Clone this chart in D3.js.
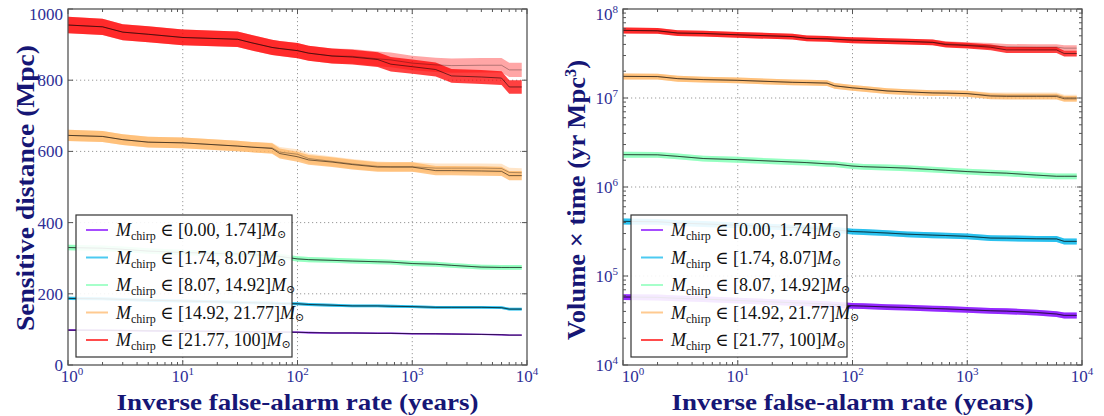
<!DOCTYPE html>
<html>
<head>
<meta charset="utf-8">
<script src="https://cdn.jsdelivr.net/npm/d3@7/dist/d3.min.js"></script>
<style>
  body { margin: 0; background: #fff; }
  text { font-family: "Liberation Serif", "DejaVu Serif", serif; }
</style>
</head>
<body>
<svg id="canvas" width="1104" height="416"></svg>
<script>
// inverse false-alarm rate (years), shared by every curve
let ifar = [1, 2, 3, 5, 10, 30, 40, 60, 70, 100, 125, 200, 300, 500, 650, 1000, 1600, 2200, 4000, 6000, 7000, 9000];

let binLabels = ["[0.00, 1.74]", "[1.74, 8.07]", "[8.07, 14.92]", "[14.92, 21.77]", "[21.77, 100]"];
let binColors = ["#8000ff", "#00b4eb", "#80ffb4", "#ffb462", "#ff0000"];

// sensitive distance (Mpc)
let dist1 = [98, 97.5, 97, 96, 95, 94, 93.5, 93, 92.5, 92, 91, 90, 90, 89, 89, 88, 87.5, 87, 86, 85, 84, 84];
let dist2 = [187, 186, 184, 182, 180, 176, 175, 174, 173, 172, 170, 168, 166, 166, 165, 164, 162, 162, 162, 161, 157, 157];
let dist3 = [330, 328, 325, 320, 316, 312, 310, 307, 305, 298, 296, 294, 292, 290, 289, 285, 283, 280, 275, 274, 274, 274];
let dist4 = [645, 642, 633, 626, 624, 615, 612, 608, 594, 585, 576, 570, 563, 556, 556, 556, 546, 546, 545, 544, 532, 532];
let dist5 = [955, 950, 935, 929, 920, 915, 905, 892, 889, 883, 876, 868, 865, 858, 845, 838, 830, 812, 809, 806, 781, 781];
// second (lighter) estimate, where it departs from the first
let dist4b = [645, 642, 633, 626, 624, 615, 612, 610, 598, 592, 580, 572, 565, 558, 557, 557, 553, 553, 553, 552, 541, 540];
let dist5b = [955, 950, 935, 929, 920, 915, 905, 892, 889, 883, 876, 868, 867, 860, 857, 848, 843, 841, 842, 842, 829, 829];

// volume x time (yr Mpc^3)
let vt1 = [5.81e4, 5.75e4, 5.62e4, 5.50e4, 5.31e4, 5.01e4, 4.95e4, 4.84e4, 4.79e4, 4.63e4, 4.59e4, 4.49e4, 4.42e4, 4.32e4, 4.27e4, 4.17e4, 4.07e4, 4.03e4, 3.89e4, 3.74e4, 3.61e4, 3.61e4];
let vt2 = [4.11e5, 4.07e5, 3.94e5, 3.85e5, 3.72e5, 3.51e5, 3.47e5, 3.35e5, 3.31e5, 3.16e5, 3.13e5, 3.04e5, 2.95e5, 2.88e5, 2.85e5, 2.79e5, 2.67e5, 2.66e5, 2.62e5, 2.61e5, 2.45e5, 2.45e5];
let vt3 = [2.31e6, 2.30e6, 2.21e6, 2.09e6, 2.03e6, 1.91e6, 1.88e6, 1.82e6, 1.81e6, 1.72e6, 1.69e6, 1.66e6, 1.63e6, 1.57e6, 1.54e6, 1.49e6, 1.45e6, 1.43e6, 1.36e6, 1.32e6, 1.32e6, 1.32e6];
let vt4 = [1.75e7, 1.74e7, 1.65e7, 1.61e7, 1.58e7, 1.50e7, 1.49e7, 1.47e7, 1.37e7, 1.30e7, 1.27e7, 1.20e7, 1.17e7, 1.14e7, 1.135e7, 1.12e7, 1.05e7, 1.04e7, 1.04e7, 1.04e7, 9.8e6, 9.8e6];
let vt5 = [5.75e7, 5.69e7, 5.37e7, 5.31e7, 5.13e7, 4.90e7, 4.68e7, 4.62e7, 4.57e7, 4.47e7, 4.44e7, 4.37e7, 4.32e7, 4.22e7, 3.98e7, 3.89e7, 3.72e7, 3.47e7, 3.47e7, 3.47e7, 3.16e7, 3.16e7];
let vt4b = [1.75e7, 1.74e7, 1.65e7, 1.61e7, 1.58e7, 1.50e7, 1.49e7, 1.47e7, 1.37e7, 1.30e7, 1.27e7, 1.20e7, 1.17e7, 1.14e7, 1.135e7, 1.12e7, 1.07e7, 1.07e7, 1.07e7, 1.07e7, 1.01e7, 1.01e7];
let vt5b = [5.75e7, 5.69e7, 5.37e7, 5.31e7, 5.13e7, 4.90e7, 4.68e7, 4.62e7, 4.57e7, 4.47e7, 4.44e7, 4.37e7, 4.32e7, 4.22e7, 4.05e7, 3.94e7, 3.85e7, 3.76e7, 3.73e7, 3.73e7, 3.63e7, 3.63e7];

let distErr = 0.024; // fractional half-width of the bands
let vtErr = 0.075;

let distSeries = [dist1, dist2, dist3, dist4, dist5];
let distSeriesB = [dist1, dist2, dist3, dist4b, dist5b];
let vtSeries = [vt1, vt2, vt3, vt4, vt5];
let vtSeriesB = [vt1, vt2, vt3, vt4b, vt5b];

let canvas = d3.select("#canvas");
let tickBlue = "#2e2e96";
let labelBlue = "#161675";

let supLabel = (sel, base, exp) => {
  sel.append("tspan").text(base);
  sel.append("tspan").attr("dy", -7).attr("font-size", 11).text(exp);
};

let drawPanel = (cfg) => {
  let g = canvas.append("g");
  let x = d3.scaleLog().domain([1, 1e4]).range([cfg.left, cfg.right]);
  let y = cfg.y;
  let top = 9, bottom = 365;

  // grid
  let decades = [1, 10, 100, 1000, 10000];
  g.selectAll(".vgrid").data(decades.slice(1, 4)).enter().append("line")
    .attr("x1", (d) => x(d)).attr("x2", (d) => x(d))
    .attr("y1", top).attr("y2", bottom)
    .attr("stroke", "#999").attr("stroke-dasharray", "1.2,2.8");
  g.selectAll(".hgrid").data(cfg.yGrid).enter().append("line")
    .attr("x1", cfg.left).attr("x2", cfg.right)
    .attr("y1", (d) => y(d)).attr("y2", (d) => y(d))
    .attr("stroke", "#999").attr("stroke-dasharray", "1.2,2.8");

  // curves
  cfg.series.forEach((vals, i) => {
    let main = ifar.map((f, j) => ({ f: f, v: vals[j] }));
    let alt = ifar.map((f, j) => ({ f: f, v: cfg.seriesB[i][j] }));
    let band = d3.area()
      .x((d) => x(d.f))
      .y0((d) => y(d.v * (1 - cfg.err)))
      .y1((d) => y(d.v * (1 + cfg.err)));
    let line = d3.line().x((d) => x(d.f)).y((d) => y(d.v));
    g.append("path").attr("d", band(alt)).attr("fill", binColors[i]).attr("fill-opacity", 0.35);
    g.append("path").attr("d", band(main)).attr("fill", binColors[i]).attr("fill-opacity", 0.75);
    g.append("path").attr("d", line(alt)).attr("fill", "none").attr("stroke", "#000").attr("stroke-opacity", 0.3).attr("stroke-width", 1);
    g.append("path").attr("d", line(main)).attr("fill", "none").attr("stroke", "#000").attr("stroke-opacity", 0.6).attr("stroke-width", 0.9);
  });

  // ticks
  let minorX = [];
  decades.slice(0, 4).forEach((d) => { for (let k = 2; k < 10; k++) minorX.push(d * k); });
  let axisG = g.append("g").attr("stroke", "#555");
  let addX = (vals, len) => {
    vals.forEach((v) => {
      axisG.append("line").attr("x1", x(v)).attr("x2", x(v)).attr("y1", bottom).attr("y2", bottom - len);
      axisG.append("line").attr("x1", x(v)).attr("x2", x(v)).attr("y1", top).attr("y2", top + len);
    });
  };
  addX(decades, 5);
  addX(minorX, 3);
  let addY = (vals, len) => {
    vals.forEach((v) => {
      axisG.append("line").attr("y1", y(v)).attr("y2", y(v)).attr("x1", cfg.left).attr("x2", cfg.left + len);
      axisG.append("line").attr("y1", y(v)).attr("y2", y(v)).attr("x1", cfg.right).attr("x2", cfg.right - len);
    });
  };
  addY(cfg.yTicks, 5);
  addY(cfg.yMinor, 3);

  g.append("rect")
    .attr("x", cfg.left).attr("y", top)
    .attr("width", cfg.right - cfg.left).attr("height", bottom - top)
    .attr("fill", "none").attr("stroke", "#555").attr("stroke-width", 1.3);

  // tick labels
  decades.forEach((d, i) => {
    let t = g.append("text")
      .attr("x", x(d) + (i === 0 ? cfg.firstShift : 0)).attr("y", 382)
      .attr("text-anchor", "middle").attr("font-size", 17).attr("fill", tickBlue);
    supLabel(t, "10", String(i));
  });
  cfg.yTicks.forEach((v) => {
    let t = g.append("text")
      .attr("x", cfg.left - 5).attr("y", Math.max(y(v), 14) + 6)
      .attr("text-anchor", "end").attr("font-size", 17).attr("fill", tickBlue);
    cfg.yFormat(t, v);
  });

  // axis labels
  g.append("text")
    .attr("x", (cfg.left + cfg.right) / 2).attr("y", 410)
    .attr("text-anchor", "middle").attr("font-size", 24).attr("font-weight", "bold")
    .attr("textLength", 362).attr("lengthAdjust", "spacingAndGlyphs")
    .attr("fill", labelBlue).text("Inverse false-alarm rate (years)");
  let yl = g.append("text")
    .attr("transform", "translate(" + cfg.yLabelX + "," + cfg.yLabelY + ") rotate(-90)")
    .attr("text-anchor", "middle").attr("font-size", 26).attr("font-weight", "bold")
    .attr("textLength", cfg.yLabelLen).attr("lengthAdjust", "spacingAndGlyphs")
    .attr("fill", labelBlue);
  cfg.yLabel(yl);

  // legend
  let lx = cfg.left + 8, ly = 215;
  let lg = g.append("g");
  lg.append("rect").attr("x", lx).attr("y", ly).attr("width", 216).attr("height", 142)
    .attr("fill", "#fff").attr("fill-opacity", 0.9)
    .attr("stroke", "#333").attr("stroke-width", 1.2);
  binLabels.forEach((lab, i) => {
    let cy = ly + 15 + i * 27.5;
    lg.append("line").attr("x1", lx + 10).attr("x2", lx + 32).attr("y1", cy).attr("y2", cy)
      .attr("stroke", binColors[i]).attr("stroke-opacity", 0.7).attr("stroke-width", 2);
    let t = lg.append("text").attr("x", lx + 40).attr("y", cy + 6).attr("font-size", 18).attr("fill", "#111");
    t.append("tspan").attr("font-style", "italic").text("M");
    t.append("tspan").attr("font-size", 12).attr("dy", 4).text("chirp");
    t.append("tspan").attr("dy", -4).text(" \u2208 " + lab);
    t.append("tspan").attr("font-style", "italic").text("M");
    t.append("tspan").attr("font-size", 11).attr("dy", 2).attr("font-family", "DejaVu Serif").text("\u2299");
  });
};

drawPanel({
  left: 68, right: 527, firstShift: 4,
  y: d3.scaleLinear().domain([0, 1000]).range([365, 9]),
  yGrid: [200, 400, 600, 800],
  yTicks: [0, 200, 400, 600, 800, 1000],
  yMinor: [],
  yFormat: (t, v) => t.text(v),
  series: distSeries, seriesB: distSeriesB, err: distErr,
  yLabelX: 34, yLabelY: 188, yLabelLen: 286,
  yLabel: (t) => t.text("Sensitive distance (Mpc)")
});

let vtMinor = [];
[1e4, 1e5, 1e6, 1e7].forEach((d) => { for (let k = 2; k < 10; k++) vtMinor.push(d * k); });

drawPanel({
  left: 623, right: 1082, firstShift: 10,
  y: d3.scaleLog().domain([1e4, 1e8]).range([365, 9]),
  yGrid: [1e5, 1e6, 1e7],
  yTicks: [1e4, 1e5, 1e6, 1e7, 1e8],
  yMinor: vtMinor,
  yFormat: (t, v) => supLabel(t, "10", String(Math.round(Math.log10(v)))),
  series: vtSeries, seriesB: vtSeriesB, err: vtErr,
  yLabelX: 585, yLabelY: 200, yLabelLen: 280,
  yLabel: (t) => {
    t.append("tspan").text("Volume \u00d7 time (yr Mpc");
    t.append("tspan").attr("dy", -9).attr("font-size", 16).text("3");
    t.append("tspan").attr("dy", 9).text(")");
  }
});
</script>
</body>
</html>
